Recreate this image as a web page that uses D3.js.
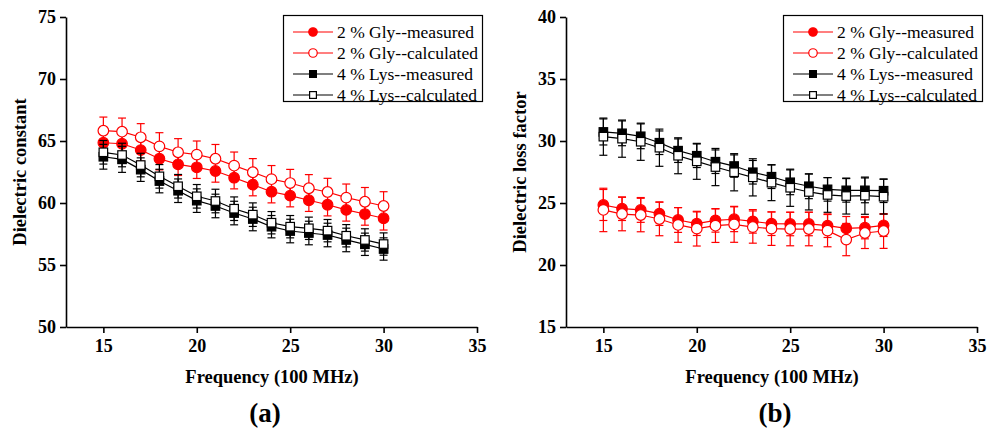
<!DOCTYPE html>
<html>
<head>
<meta charset="utf-8">
<script src="https://cdn.jsdelivr.net/npm/d3@7"></script>
<style>
    body { margin: 0; background: #fff; }
    text { font-family: "Liberation Serif", "Times New Roman", serif; }
</style>
</head>
<body>
<div id="chart"></div>
<script>
// Frequency in units of 100 MHz
const frequency = [15, 16, 17, 18, 19, 20, 21, 22, 23, 24, 25, 26, 27, 28, 29, 30];

// (a) Dielectric constant
const glyMeasuredA = [64.86, 64.78, 64.27, 63.57, 63.12, 62.88, 62.58, 62.04, 61.48, 60.91, 60.59, 60.22, 59.86, 59.44, 59.11, 58.77];
const glyCalcA     = [65.83, 65.75, 65.30, 64.57, 64.09, 63.90, 63.57, 63.01, 62.48, 61.92, 61.61, 61.19, 60.89, 60.43, 60.10, 59.76];
const lysMeasuredA = [63.73, 63.52, 62.69, 61.77, 60.99, 60.19, 59.76, 59.19, 58.71, 58.09, 57.74, 57.58, 57.42, 57.02, 56.67, 56.29];
const lysCalcA     = [64.09, 63.87, 63.06, 62.15, 61.35, 60.54, 60.16, 59.54, 59.06, 58.41, 58.09, 57.96, 57.77, 57.36, 57.02, 56.69];
const glyMeasuredErrA = [0.9, 0.9, 0.9, 0.9, 0.9, 0.9, 0.9, 0.9, 0.9, 0.9, 0.9, 0.9, 0.9, 0.9, 0.9, 0.95];
const glyCalcErrA     = [1.1, 1.1, 1.1, 1.1, 1.1, 1.1, 1.15, 1.1, 1.1, 1.1, 1.1, 1.1, 1.1, 1.1, 1.15, 1.15];
const lysMeasuredErrA = [1.0, 1.05, 0.95, 0.95, 0.95, 0.95, 0.95, 0.95, 0.95, 0.9, 0.95, 0.95, 0.95, 0.95, 0.9, 0.9];
const lysCalcErrA     = [0.95, 0.95, 0.95, 0.95, 0.95, 0.95, 0.95, 0.95, 0.95, 0.9, 0.9, 0.9, 0.9, 0.9, 0.9, 0.9];

// (b) Dielectric loss factor
const glyMeasuredB = [24.84, 24.54, 24.44, 24.14, 23.63, 23.33, 23.60, 23.69, 23.52, 23.33, 23.31, 23.31, 23.17, 22.96, 23.01, 23.20];
const glyCalcB     = [24.44, 24.11, 24.03, 23.71, 23.23, 22.93, 23.17, 23.28, 23.06, 22.93, 22.90, 22.90, 22.77, 22.05, 22.58, 22.74];
const lysMeasuredB = [30.73, 30.62, 30.38, 29.86, 29.22, 28.81, 28.33, 27.98, 27.48, 27.12, 26.67, 26.35, 26.10, 26.02, 26.02, 25.99];
const lysCalcB     = [30.35, 30.19, 29.94, 29.46, 28.81, 28.36, 27.90, 27.48, 27.07, 26.64, 26.23, 25.89, 25.65, 25.56, 25.59, 25.51];
const glyMeasuredErrB = [1.25, 0.95, 1.0, 0.95, 1.0, 0.95, 0.95, 1.0, 0.95, 0.95, 0.95, 0.95, 0.95, 0.95, 0.9, 0.9];
const glyCalcErrB     = [1.75, 1.35, 1.35, 1.35, 1.4, 1.4, 1.35, 1.45, 1.3, 1.35, 1.35, 1.35, 1.3, 1.3, 1.25, 1.4];
const lysMeasuredErrB = [1.05, 1.0, 1.0, 0.95, 0.95, 0.95, 0.95, 0.9, 0.95, 0.95, 1.0, 1.0, 0.95, 0.95, 1.0, 0.95];
const lysCalcErrB     = [1.5, 1.5, 1.5, 1.5, 1.45, 1.45, 1.5, 1.5, 1.5, 1.45, 1.5, 1.45, 1.4, 1.45, 1.5, 1.4];

const seriesNames = ['2 % Gly--measured', '2 % Gly--calculated', '4 % Lys--measured', '4 % Lys--calculated'];
const seriesColors = ['#ff0000', '#ff0000', '#000000', '#000000'];
const seriesShapes = ['circle', 'circle', 'square', 'square'];
const seriesFilled = [true, false, true, false];

const xTicks = [15, 20, 25, 30, 35];
const yTicksA = [50, 55, 60, 65, 70, 75];
const yTicksB = [15, 20, 25, 30, 35, 40];

const width = 996, height = 431;

const svg = d3.select('#chart').append('svg')
    .attr('width', width)
    .attr('height', height);

function drawPanel(cfg) {
    const g = svg.append('g').attr('transform', `translate(${cfg.offsetX},0)`);

    const x = d3.scaleLinear().domain([13, 35]).range([66, 477]);
    const y = d3.scaleLinear().domain(cfg.yDomain).range([327, 17]);

    // Axes (left + bottom only)
    const xAxis = g.append('g')
        .attr('transform', `translate(0,${y.range()[0]})`)
        .call(d3.axisBottom(x).tickValues(xTicks).tickSize(6).tickSizeOuter(0).tickPadding(6));
    const yAxis = g.append('g')
        .attr('transform', `translate(${x.range()[0]},0)`)
        .call(d3.axisLeft(y).tickValues(cfg.yTicks).tickSize(6).tickSizeOuter(0).tickPadding(4));

    [xAxis, yAxis].forEach(a => {
        a.select('.domain').attr('stroke', '#000').attr('stroke-width', 1.6);
        a.selectAll('.tick line').attr('stroke', '#000').attr('stroke-width', 1.6);
        a.selectAll('.tick text')
            .attr('fill', '#000')
            .style('font-family', '"Liberation Serif", serif')
            .style('font-weight', 'bold')
            .style('font-size', '18px');
    });

    // Axis titles
    g.append('text')
        .attr('x', 272)
        .attr('y', 383)
        .attr('text-anchor', 'middle')
        .attr('font-weight', 'bold')
        .attr('font-size', '18.5px')
        .text('Frequency (100 MHz)');

    g.append('text')
        .attr('transform', `translate(26,172) rotate(-90)`)
        .attr('text-anchor', 'middle')
        .attr('font-weight', 'bold')
        .attr('font-size', '18.5px')
        .text(cfg.yTitle);

    g.append('text')
        .attr('x', cfg.labelX)
        .attr('y', 422)
        .attr('text-anchor', 'middle')
        .attr('font-weight', 'bold')
        .attr('font-size', '27px')
        .text(cfg.label);

    const line = d3.line().x(d => x(d.f)).y(d => y(d.v));

    cfg.series.forEach((s, i) => {
        const pts = frequency.map((f, j) => ({f: f, v: s.values[j], e: s.errors[j]}));
        const color = seriesColors[i];
        const sg = g.append('g');

        // error bars
        const eb = sg.selectAll('.err').data(pts).join('g').attr('class', 'err')
            .attr('stroke', color).attr('stroke-width', 1.2);
        eb.append('line')
            .attr('x1', d => x(d.f)).attr('x2', d => x(d.f))
            .attr('y1', d => y(d.v - d.e)).attr('y2', d => y(d.v + d.e));
        eb.append('line')
            .attr('x1', d => x(d.f) - 4).attr('x2', d => x(d.f) + 4)
            .attr('y1', d => y(d.v + d.e)).attr('y2', d => y(d.v + d.e));
        eb.append('line')
            .attr('x1', d => x(d.f) - 4).attr('x2', d => x(d.f) + 4)
            .attr('y1', d => y(d.v - d.e)).attr('y2', d => y(d.v - d.e));

        sg.append('path')
            .datum(pts)
            .attr('fill', 'none')
            .attr('stroke', color)
            .attr('stroke-width', 1.2)
            .attr('d', line);

        drawMarkers(sg, pts.map(d => [x(d.f), y(d.v)]), i);
    });

    // Legend
    const lg = g.append('g');
    lg.append('rect')
        .attr('x', 283.5).attr('y', 15.5)
        .attr('width', 199).attr('height', 86)
        .attr('fill', '#fff')
        .attr('stroke', '#000')
        .attr('stroke-width', 1.2);
    seriesNames.forEach((name, i) => {
        const ly = 32 + i * 21;
        lg.append('line')
            .attr('x1', 293).attr('x2', 333)
            .attr('y1', ly).attr('y2', ly)
            .attr('stroke', seriesColors[i])
            .attr('stroke-width', 1.2);
        drawMarkers(lg, [[313, ly]], i, 0.8);
        lg.append('text')
            .attr('x', 337)
            .attr('y', ly + 5.5)
            .attr('font-size', '17.5px')
            .text(name);
    });
}

function drawMarkers(sel, coords, i, k = 1) {
    const color = seriesColors[i];
    const fill = seriesFilled[i] ? color : '#fff';
    if (seriesShapes[i] === 'circle') {
        sel.selectAll(null).data(coords).join('circle')
            .attr('cx', d => d[0]).attr('cy', d => d[1])
            .attr('r', 5.3 * k)
            .attr('fill', fill)
            .attr('stroke', color)
            .attr('stroke-width', 1.2);
    } else {
        const s = 8.5 * k;
        sel.selectAll(null).data(coords).join('rect')
            .attr('x', d => d[0] - s / 2).attr('y', d => d[1] - s / 2)
            .attr('width', s).attr('height', s)
            .attr('fill', fill)
            .attr('stroke', color)
            .attr('stroke-width', 1.2);
    }
}

drawPanel({
    offsetX: 0,
    yDomain: [50, 75],
    yTicks: yTicksA,
    yTitle: 'Dielectric constant',
    label: '(a)',
    labelX: 265,
    series: [
        {values: glyMeasuredA, errors: glyMeasuredErrA},
        {values: glyCalcA, errors: glyCalcErrA},
        {values: lysMeasuredA, errors: lysMeasuredErrA},
        {values: lysCalcA, errors: lysCalcErrA}
    ]
});

drawPanel({
    offsetX: 500,
    yDomain: [15, 40],
    yTicks: yTicksB,
    yTitle: 'Dielectric loss factor',
    label: '(b)',
    labelX: 275,
    series: [
        {values: glyMeasuredB, errors: glyMeasuredErrB},
        {values: glyCalcB, errors: glyCalcErrB},
        {values: lysMeasuredB, errors: lysMeasuredErrB},
        {values: lysCalcB, errors: lysCalcErrB}
    ]
});
</script>
</body>
</html>
